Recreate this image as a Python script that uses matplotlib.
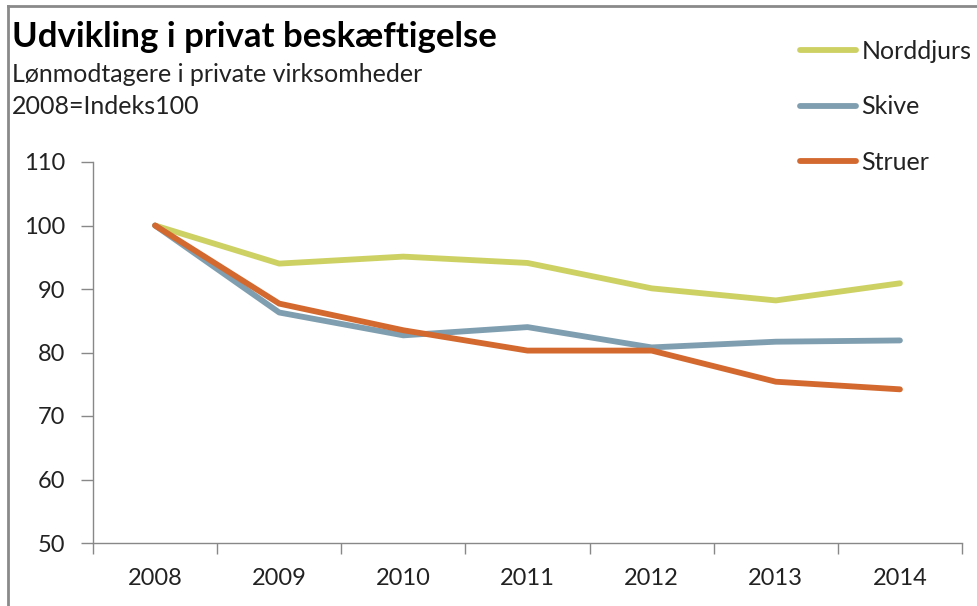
import matplotlib
matplotlib.use("Agg")
import matplotlib.pyplot as plt
from matplotlib.lines import Line2D

years = ["2008", "2009", "2010", "2011", "2012", "2013", "2014"]
norddjurs = [100.0, 94.0, 95.1, 94.1, 90.1, 88.2, 90.9]
skive = [100.0, 86.3, 82.7, 84.0, 80.8, 81.7, 81.9]
struer = [100.0, 87.7, 83.5, 80.3, 80.3, 75.4, 74.2]
series_names = ["Norddjurs", "Skive", "Struer"]
colors = ["#CDD164", "#7F9FB0", "#D4692F"]

plt.rcParams['font.family'] = ['Lato', 'DejaVu Sans']

fig = plt.figure(figsize=(9.77, 6.06), dpi=100)
ax = fig.add_axes([93/977, 1-543/606, (962-93)/977, (543-162)/606])

x = list(range(len(years)))
for vals, c, name in zip([norddjurs, skive, struer], colors, series_names):
    ax.plot(x, vals, color=c, lw=4.2, solid_capstyle='round', solid_joinstyle='round', label=name)

ax.set_xlim(-0.5, len(years) - 0.5)
ax.set_ylim(50, 110)
ax.set_yticks(range(50, 111, 10))
ax.set_xticks(x)
ax.set_xticklabels(years)
ax.set_xticks([i - 0.5 for i in range(len(years) + 1)], minor=True)
ax.tick_params(axis='x', which='major', length=0, pad=18, labelsize=17, labelcolor='#222222')
ax.tick_params(axis='x', which='minor', length=8, width=1, color='#888888', direction='out')
ax.tick_params(axis='y', length=9, width=1, color='#888888', pad=11, labelsize=17, labelcolor='#222222')
for s in ['top', 'right']:
    ax.spines[s].set_visible(False)
for s in ['left', 'bottom']:
    ax.spines[s].set_color('#888888')
    ax.spines[s].set_linewidth(1)

fig.text(12/977, 1-37/606, "Udvikling i privat beskæftigelse", fontsize=25, fontweight='bold',
         va='center', ha='left', color='#000000')
fig.text(12/977, 1-74/606, "Lønmodtagere i private virksomheder", fontsize=18, va='center', ha='left', color='#222222')
fig.text(12/977, 1-106/606, "2008=Indeks100", fontsize=18, va='center', ha='left', color='#222222')

handles = [Line2D([0], [0], color=c, lw=4.2, solid_capstyle='round') for c in colors]
leg = fig.legend(handles, series_names, loc='upper left', bbox_to_anchor=(800/977, 1-40/606),
                 frameon=False, fontsize=18, handlelength=2.25, handletextpad=0.2,
                 labelspacing=1.3, borderaxespad=0, borderpad=0)
for t in leg.get_texts():
    t.set_color('#222222')

# chart frame
fig.add_artist(Line2D([8/977, 8/977], [0, 1-6/606], transform=fig.transFigure, color='#8a8a8a', lw=2))
fig.add_artist(Line2D([8/977, 1], [1-6/606, 1-6/606], transform=fig.transFigure, color='#8a8a8a', lw=2))

fig.savefig("out.png", dpi=100)
